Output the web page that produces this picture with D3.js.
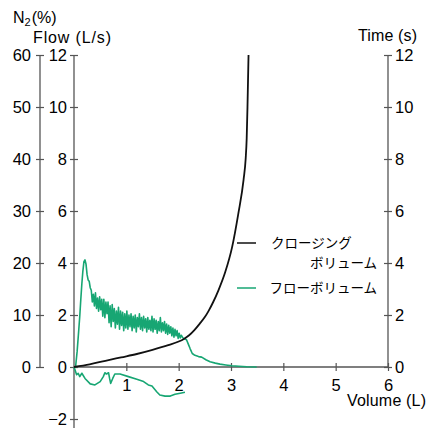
<!DOCTYPE html>
<html><head><meta charset="utf-8">
<script src="https://cdn.jsdelivr.net/npm/d3@7"></script>
<style>
html,body{margin:0;padding:0;background:#fff;}
svg{display:block;font-family:"Liberation Sans",Arial,sans-serif;}
</style></head>
<body><svg id="c" width="428" height="434"></svg>
<script>
// ---- data ----
const volumeTicks = [1, 2, 3, 4, 5, 6];
const flowTicks = [-2, 0, 2, 4, 6, 8, 10, 12];
const n2Ticks = [0, 10, 20, 30, 40, 50, 60];
const timeTicks = [0, 2, 4, 6, 8, 10, 12];
const legendLabels = [["クロージング", "ボリューム"], ["フローボリューム"]];

// closing volume curve [volume L, value]
const closingVolume = [
  [0,0],[0.3,0.1],[0.6,0.24],[0.9,0.37],[1.2,0.5],[1.5,0.66],[1.8,0.84],[2.0,0.98],
  [2.1,1.08],[2.2,1.22],[2.3,1.42],[2.4,1.66],[2.5,1.92],[2.57,2.15],[2.66,2.5],
  [2.76,2.95],[2.89,3.65],[3.02,4.6],[3.14,5.9],[3.24,7.2],[3.28,8.0],[3.30,8.8],
  [3.315,10.0],[3.325,11.0],[3.335,12.0]
];

// flow-volume loop: expiratory limb [volume L, flow L/s]
const flowExpiratory = [
  [0,0],[0.03,0.0],[0.06,0.6],[0.09,1.4],[0.11,1.95],[0.13,2.6],[0.15,3.2],[0.17,3.7],
  [0.19,4.05],[0.21,4.12],[0.23,3.95],[0.25,3.55],[0.27,3.35],[0.29,3.3],[0.31,3.05],
  [0.33,2.95],[0.35,2.5],[0.37,2.8],[0.39,2.35],[0.41,2.85],[0.43,2.25],[0.45,2.65],[0.47,2.15],
  [0.49,2.7],[0.51,2.2],[0.53,2.6],[0.55,1.95],[0.57,2.6],[0.59,1.9],[0.61,2.5],[0.63,2.05],
  [0.65,2.5],[0.67,1.7],[0.69,2.35],[0.71,1.55],[0.73,2.4],[0.75,1.75],[0.77,2.25],[0.79,1.5],
  [0.81,2.15],[0.83,1.65],[0.85,2.3],[0.87,1.45],[0.89,2.15],[0.91,1.6],[0.93,2.1],[0.95,1.4],
  [0.97,2.05],[0.99,1.5],[1.01,2.15],[1.03,1.45],[1.05,2.0],[1.07,1.55],[1.09,2.05],[1.11,1.4],
  [1.13,1.95],[1.15,1.5],[1.17,2.0],[1.19,1.35],[1.21,1.9],[1.23,1.55],[1.25,2.05],[1.27,1.45],
  [1.29,1.9],[1.31,1.4],[1.33,1.95],[1.35,1.5],[1.37,1.85],[1.39,1.35],[1.41,1.9],[1.43,1.45],
  [1.45,1.8],[1.47,1.4],[1.49,1.95],[1.51,1.35],[1.53,1.85],[1.55,1.45],[1.57,1.8],[1.59,1.3],
  [1.61,1.75],[1.63,1.4],[1.65,1.9],[1.67,1.35],[1.69,1.7],[1.71,1.4],[1.73,1.75],[1.75,1.3],
  [1.77,1.65],[1.79,1.25],[1.81,1.6],[1.83,1.3],[1.85,1.55],[1.87,1.2],[1.89,1.5],[1.91,1.15],
  [1.93,1.45],[1.95,1.2],[1.97,1.4],[1.99,1.1],[2.01,1.3],[2.03,1.12],[2.05,1.22],[2.08,1.12],
  [2.12,1.08],[2.15,1.05],[2.19,0.85],[2.22,0.7],[2.26,0.52],[2.31,0.45],[2.38,0.4],[2.44,0.38],
  [2.52,0.28],[2.6,0.2],[2.7,0.15],[2.79,0.11],[2.9,0.08],[3.02,0.05],[3.15,0.03],[3.3,0.01],[3.49,0.0]
];

// inspiratory limb
const flowInspiratory = [
  [0,0],[0.02,-0.12],[0.05,-0.3],[0.08,-0.24],[0.11,-0.37],[0.15,-0.24],[0.21,-0.44],
  [0.31,-0.65],[0.4,-0.69],[0.5,-0.56],[0.56,-0.37],[0.59,-0.22],[0.62,-0.27],[0.66,-0.22],
  [0.68,-0.44],[0.7,-0.63],[0.74,-0.44],[0.78,-0.27],[0.88,-0.27],[1.04,-0.37],[1.2,-0.47],
  [1.33,-0.56],[1.42,-0.69],[1.49,-0.73],[1.58,-0.95],[1.64,-1.08],[1.74,-1.12],[1.84,-1.12],
  [1.93,-1.05],[2.03,-1.01],[2.12,-0.97]
];

// ---- layout ----
const svg = d3.select("#c");
const GREEN = "#17a673", AXIS = "#555";
const x = d3.scaleLinear().domain([0, 6]).range([74, 388]);
const y = d3.scaleLinear().domain([0, 12]).range([367, 55]);
const yN2 = d3.scaleLinear().domain([0, 60]).range([367, 55]);
const yT = d3.scaleLinear().domain([0, 12]).range([367, 55]);
const FS = 16.5;
const fmt = d3.format("d");

function crossTicks(g, vertical) {
  g.select(".domain").remove();
  g.selectAll(".tick line").attr("stroke", AXIS).attr("stroke-width", 1.2);
  if (vertical) g.selectAll(".tick line").attr("x1", -4).attr("x2", 4);
  else g.selectAll(".tick line").attr("y1", -4).attr("y2", 4);
  g.selectAll(".tick text").attr("fill", "#000").style("font-size", FS + "px");
}

// axis lines
svg.append("line").attr("x1", 40).attr("x2", 40).attr("y1", yN2(60)).attr("y2", yN2(0)).attr("stroke", AXIS).attr("stroke-width", 1.3);
svg.append("line").attr("x1", x(0)).attr("x2", x(0)).attr("y1", y(12)).attr("y2", y(-2.35)).attr("stroke", AXIS).attr("stroke-width", 1.3);
svg.append("line").attr("x1", x(6)).attr("x2", x(6)).attr("y1", yT(12)).attr("y2", yT(0)).attr("stroke", AXIS).attr("stroke-width", 1.3);
svg.append("line").attr("x1", x(0)).attr("x2", x(6)).attr("y1", y(0)).attr("y2", y(0)).attr("stroke", AXIS).attr("stroke-width", 1.3);

const gN2 = svg.append("g").attr("transform", "translate(40,0)")
  .call(d3.axisLeft(yN2).tickValues(n2Ticks).tickFormat(fmt).tickSize(4).tickPadding(5));
crossTicks(gN2, true);
const gF = svg.append("g").attr("transform", `translate(${x(0)},0)`)
  .call(d3.axisLeft(y).tickValues(flowTicks).tickFormat(d3.format("d")).tickSize(4).tickPadding(3));
crossTicks(gF, true);
const gT = svg.append("g").attr("transform", `translate(${x(6)},0)`)
  .call(d3.axisRight(yT).tickValues(timeTicks).tickFormat(fmt).tickSize(4).tickPadding(3));
crossTicks(gT, true);
const gX = svg.append("g").attr("transform", `translate(0,${y(0)})`)
  .call(d3.axisBottom(x).tickValues(volumeTicks).tickFormat(fmt).tickSize(4).tickPadding(8));
crossTicks(gX, false);

// titles
const n2 = svg.append("text").attr("x", 13).attr("y", 23).style("font-size", "16px");
n2.append("tspan").text("N");
n2.append("tspan").attr("dy", 3).style("font-size", "11px").text("2");
n2.append("tspan").attr("dy", -3).attr("dx", 1).text("(%)");
svg.append("text").attr("x", 33).attr("y", 43).style("font-size", "16px")
  .attr("textLength", 78).attr("lengthAdjust", "spacing").text("Flow (L/s)");
svg.append("text").attr("x", 358).attr("y", 41).style("font-size", "16px")
  .attr("textLength", 59).attr("lengthAdjust", "spacing").text("Time (s)");
svg.append("text").attr("x", 347).attr("y", 406).style("font-size", "16px")
  .attr("textLength", 79).attr("lengthAdjust", "spacing").text("Volume (L)");

// curves
const line = d3.line().x(d => x(d[0])).y(d => y(d[1]));
svg.append("path").datum(flowExpiratory).attr("d", line).attr("fill", "none").attr("stroke", GREEN).attr("stroke-width", 1.6).attr("stroke-linejoin", "round");
svg.append("path").datum(flowInspiratory).attr("d", line).attr("fill", "none").attr("stroke", GREEN).attr("stroke-width", 1.6).attr("stroke-linejoin", "round");
const smooth = d3.line().x(d => x(d[0])).y(d => yT(d[1])).curve(d3.curveMonotoneX);
svg.append("path").datum(closingVolume).attr("d", smooth).attr("fill", "none").attr("stroke", "#111").attr("stroke-width", 1.8);

// legend
const lg = svg.append("g").style("font-family", "'Noto Sans CJK JP',sans-serif").style("font-size", "13.5px");
lg.append("line").attr("x1", 237).attr("x2", 256).attr("y1", 243).attr("y2", 243).attr("stroke", "#111").attr("stroke-width", 1.5);
lg.append("text").attr("x", 271).attr("y", 242).attr("dominant-baseline", "central").text(legendLabels[0][0]);
lg.append("text").attr("x", 377).attr("y", 262).attr("text-anchor", "end").attr("dominant-baseline", "central").text(legendLabels[0][1]);
lg.append("line").attr("x1", 237).attr("x2", 256).attr("y1", 288).attr("y2", 288).attr("stroke", GREEN).attr("stroke-width", 1.5);
lg.append("text").attr("x", 377).attr("y", 287).attr("text-anchor", "end").attr("dominant-baseline", "central").text(legendLabels[1][0]);
</script></body></html>
